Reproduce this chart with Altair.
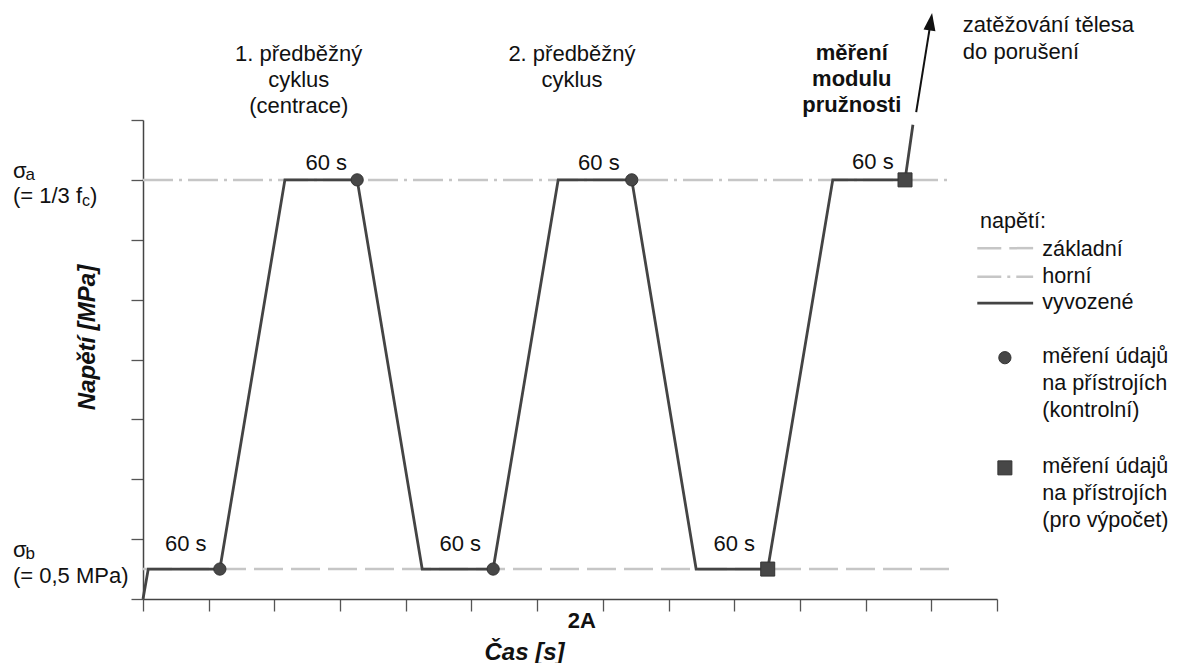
import altair as alt
import pandas as pd

FONT = "Liberation Sans"
DARK = "#444444"
LIGHT = "#c6c6c6"
TXT = "#111111"

# ---- data (time units / stress units) ----
path_t = [0, 0.08, 1.17, 2.16, 3.26, 4.25, 5.33, 6.32, 7.44, 8.42, 9.51, 10.50, 11.60, 11.72]
path_s = [0, 0.5, 0.5, 7, 7, 0.5, 0.5, 7, 7, 0.5, 0.5, 7, 7, 7.92]

ctrl_t = [1.17, 3.26, 5.33, 7.44]
ctrl_s = [0.5, 7, 0.5, 7]
calc_t = [9.51, 11.60]
calc_s = [0.5, 7]

sigma_b = 0.5
sigma_a = 7
ref_end = 12.28

x_ticks = list(range(14))
y_ticks = list(range(9))

arrow_t = [11.77, 11.99]
arrow_s = [8.13, 9.63]

hold_t = [0.65, 4.83, 9.00, 2.79, 6.94, 11.11]
hold_s = [0.80, 0.80, 0.80, 7.17, 7.17, 7.18]
hold_lab = ["60 s"] * 6

cycle_lab = ["1. předběžný", "cyklus", "(centrace)", "2. předběžný", "cyklus"]
cycle_t = [2.37, 2.37, 2.37, 6.53, 6.53]
cycle_s = [8.99, 8.55, 8.12, 8.99, 8.55]

mod_lab = ["měření", "modulu", "pružnosti", "2A"]
mod_t = [10.79, 10.79, 10.79, 6.68]
mod_s = [9.00, 8.57, 8.13, -0.48]

left_lab = ["zatěžování tělesa", "do porušení", "(= 1/3 f", "(= 0,5 MPa)", "σ", "σ"]
left_t = [12.48, 12.48, -1.98, -1.98, -1.98, -1.98]
left_s = [9.47, 9.02, 6.61, 0.27, 7.03, 0.70]

leg_lab = ["napětí:", "základní", "horní", "vyvozené",
           "měření údajů", "na přístrojích", "(kontrolní)",
           "měření údajů", "na přístrojích", "(pro výpočet)"]
leg_t = [12.74, 13.69, 13.69, 13.69,
         13.69, 13.69, 13.69,
         13.69, 13.69, 13.69]
leg_s = [6.20, 5.73, 5.28, 4.84,
         3.94, 3.49, 3.04,
         2.10, 1.65, 1.20]

sub_lab = ["a", "b", "c", ")"]
sub_t = [-1.98, -1.98, -1.98, -1.98]
sub_s = [7.03, 0.70, 6.61, 6.61]
sub_dx = [12.5, 12.5, 69, 77]
sub_size = [17, 17, 16, 22]
sub_dy = [2, 2, 3, 0]

leg_line_t = [12.70, 13.55]
leg_line_s = [5.86, 5.38, 4.94]
leg_sym_t = [13.12, 13.12]
leg_sym_s = [4.03, 2.19]

# ---- encodings ----
XAX = alt.Axis(values=x_ticks, labels=False, grid=False, tickSize=12, tickColor="#555555",
               tickWidth=1.3, domainColor="#444444", domainWidth=1.5,
               title="Čas [s]", titleFont=FONT, titleFontSize=24, titleFontWeight="bold",
               titleFontStyle="italic", titleColor=TXT, titleX=381, titleY=60,
               titleBaseline="alphabetic", titleAlign="center")
YAX = alt.Axis(values=y_ticks, labels=False, grid=False, tickSize=12, tickColor="#555555",
               tickWidth=1.3, domainColor="#444444", domainWidth=1.5,
               title="Napětí [MPa]", titleFont=FONT, titleFontSize=24, titleFontWeight="bold",
               titleFontStyle="italic", titleColor=TXT, titleAngle=270, titleX=-56, titleY=217,
               titleBaseline="middle", titleAlign="center")
XS = alt.Scale(domain=[0, 13], nice=False, zero=False)
YS = alt.Scale(domain=[0, 8], nice=False, zero=False)


def X(f="t"):
    return alt.X(f, type="quantitative", scale=XS, axis=XAX)


def Y(f="s"):
    return alt.Y(f, type="quantitative", scale=YS, axis=YAX)


# ---- tables ----
path_df = pd.DataFrame({"t": path_t, "s": path_s, "i": list(range(len(path_t)))})
ctrl_df = pd.DataFrame({"t": ctrl_t, "s": ctrl_s})
calc_df = pd.DataFrame({"t": calc_t, "s": calc_s})
base_df = pd.DataFrame({"t": [0], "t2": [ref_end], "s": [sigma_b]})
top_df = pd.DataFrame({"t": [0], "t2": [ref_end], "s": [sigma_a]})
arrow_df = pd.DataFrame({"t": arrow_t, "s": arrow_s, "i": [0, 1]})
head_df = pd.DataFrame({"t": [arrow_t[1]], "s": [arrow_s[1]]})
hold_df = pd.DataFrame({"t": hold_t, "s": hold_s, "label": hold_lab})
cycle_df = pd.DataFrame({"t": cycle_t, "s": cycle_s, "label": cycle_lab})
mod_df = pd.DataFrame({"t": mod_t, "s": mod_s, "label": mod_lab})
left_df = pd.DataFrame({"t": left_t, "s": left_s, "label": left_lab})
legt_df = pd.DataFrame({"t": leg_t, "s": leg_s, "label": leg_lab})
leg_df = [pd.DataFrame({"t": [leg_line_t[0]], "t2": [leg_line_t[1]], "s": [v]}) for v in leg_line_s]
leg_c = pd.DataFrame({"t": [leg_sym_t[0]], "s": [leg_sym_s[0]]})
leg_q = pd.DataFrame({"t": [leg_sym_t[1]], "s": [leg_sym_s[1]]})

DASH_B = [29, 8]
DASH_A = [30, 6, 3, 6]

layers = []
layers.append(alt.Chart(base_df).mark_rule(color=LIGHT, strokeWidth=2.5, strokeDash=DASH_B)
              .encode(x=X(), x2="t2", y=Y()))
layers.append(alt.Chart(top_df).mark_rule(color=LIGHT, strokeWidth=2.5, strokeDash=DASH_A)
              .encode(x=X(), x2="t2", y=Y()))
layers.append(alt.Chart(leg_df[0]).mark_rule(color=LIGHT, strokeWidth=2.5, strokeDash=[24, 8])
              .encode(x=X(), x2="t2", y=Y()))
layers.append(alt.Chart(leg_df[1]).mark_rule(color=LIGHT, strokeWidth=2.5, strokeDash=[24, 6, 3, 6])
              .encode(x=X(), x2="t2", y=Y()))
layers.append(alt.Chart(leg_df[2]).mark_rule(color=DARK, strokeWidth=2.8)
              .encode(x=X(), x2="t2", y=Y()))
layers.append(alt.Chart(path_df).mark_line(color=DARK, strokeWidth=2.8)
              .encode(x=X(), y=Y(), order="i:Q"))
layers.append(alt.Chart(arrow_df).mark_line(color=TXT, strokeWidth=2)
              .encode(x=X(), y=Y(), order="i:Q"))
layers.append(alt.Chart(head_df).mark_point(shape="M0,-1.2L0.75,1L-0.75,1Z", filled=True, fill=TXT,
                                             strokeWidth=0, size=256, angle=8.4, opacity=1)
              .encode(x=X(), y=Y()))
for df, shp, sz in [(ctrl_df, "circle", 150), (calc_df, "square", 196),
                    (leg_c, "circle", 150), (leg_q, "square", 196)]:
    layers.append(alt.Chart(df).mark_point(shape=shp, filled=True, fill="#474747", stroke="#333333",
                                           strokeWidth=1, size=sz, opacity=1)
                  .encode(x=X(), y=Y()))

layers.append(alt.Chart(hold_df).mark_text(font=FONT, fontSize=22, color=TXT, baseline="alphabetic",
                                           align="center")
              .encode(x=X(), y=Y(), text="label:N"))
layers.append(alt.Chart(cycle_df).mark_text(font=FONT, fontSize=22, color=TXT, baseline="alphabetic",
                                            align="center")
              .encode(x=X(), y=Y(), text="label:N"))
layers.append(alt.Chart(mod_df).mark_text(font=FONT, fontSize=22, fontWeight="bold", color=TXT,
                                          baseline="alphabetic", align="center")
              .encode(x=X(), y=Y(), text="label:N"))
layers.append(alt.Chart(left_df).mark_text(font=FONT, fontSize=22, color=TXT, baseline="alphabetic",
                                           align="left")
              .encode(x=X(), y=Y(), text="label:N"))
layers.append(alt.Chart(legt_df).mark_text(font=FONT, fontSize=21.6, color=TXT, baseline="alphabetic",
                                           align="left")
              .encode(x=X(), y=Y(), text="label:N"))
for i in range(len(sub_lab)):
    d = pd.DataFrame({"t": [sub_t[i]], "s": [sub_s[i]], "label": [sub_lab[i]]})
    layers.append(alt.Chart(d).mark_text(font=FONT, fontSize=sub_size[i], color=TXT,
                                         baseline="alphabetic", align="left",
                                         dx=sub_dx[i], dy=sub_dy[i])
                  .encode(x=X(), y=Y(), text="label:N"))

chart = alt.layer(*layers).properties(
    width=854, height=479,
    padding={"left": 135, "top": 112, "right": 172, "bottom": 64},
    autosize=alt.AutoSizeParams(type="none"),
    background="white",
).configure_view(stroke=None)

chart.save("out.html", embed_options={"renderer": "svg", "actions": False})
